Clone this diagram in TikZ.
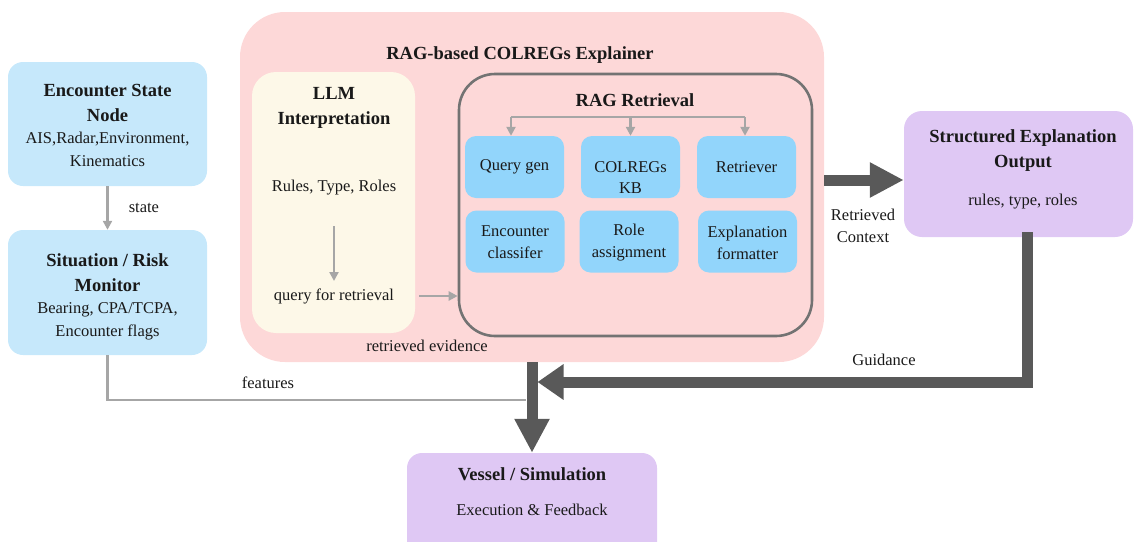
\documentclass[tikz,border=0pt]{standalone}
\usepackage{fontspec}
\setmainfont{Liberation Serif}
\usetikzlibrary{arrows.meta,calc}

\definecolor{encblue}{HTML}{C6E8FB}
\definecolor{subblue}{HTML}{92D5FB}
\definecolor{pinkbg}{HTML}{FDD8D8}
\definecolor{creambg}{HTML}{FDF8E8}
\definecolor{lavender}{HTML}{DFC8F4}
\definecolor{lightarrow}{HTML}{A6A6A6}
\definecolor{darkarrow}{HTML}{595959}
\definecolor{ragborder}{HTML}{737373}

\tikzset{
  regular/.style={font=\fontsize{16.5}{23}\selectfont},
  heading/.style={font=\fontsize{18.5}{25}\selectfont\bfseries},
  txt/.style={align=center, inner sep=0pt, text=black!90},
  panel/.style={inner sep=0pt, draw=none},
  outerbox/.style={panel, fill=encblue, rounded corners=15pt},
  subbox/.style={panel, fill=subblue, rounded corners=11pt, minimum width=99pt, minimum height=62pt},
  outbox/.style={panel, fill=lavender, rounded corners=18pt},
  thinarrow/.style={draw=lightarrow, line width=2.6pt, -{Triangle[width=9pt,length=9pt]}},
  thinline/.style={draw=lightarrow, line width=2.6pt},
  thickarrow/.style={draw=darkarrow, line width=11pt, -{Triangle[width=33pt,length=34pt]}},
  thickline/.style={draw=darkarrow, line width=11pt},
}

\begin{document}
\begin{tikzpicture}[x=1pt, y=-1pt]
\useasboundingbox (0,0) rectangle (1134,541);
\clip (0,0) rectangle (1134,541);

% ---------- left column ----------
\node[outerbox, minimum width=199pt, minimum height=124pt] (enc) at (107.5,124) {};
\node[txt, heading] (encT) at (107.5,102.5) {Encounter State\\Node};
\node[txt, regular] (encB) at (107.5,149) {AIS,Radar,Environment,\\Kinematics};

\node[outerbox, minimum width=199pt, minimum height=125pt] (sit) at (107.5,292.5) {};
\node[txt, heading] (sitT) at (107.5,272.5) {Situation / Risk\\Monitor};
\node[txt, regular] (sitB) at (107.5,321) {Bearing, CPA/TCPA,\\Encounter flags};

% ---------- explainer panel ----------
\node[panel, fill=pinkbg, rounded corners=45pt, minimum width=584pt, minimum height=350pt] (pink) at (532,187) {};
\node[txt, heading] (pinkT) at (520,55) {RAG-based COLREGs Explainer};

\node[panel, fill=creambg, rounded corners=24pt, minimum width=163pt, minimum height=261pt] (llm) at (333.5,202.5) {};
\node[txt, heading] (llmT) at (334,108) {LLM\\Interpretation};
\node[txt, regular] (rules) at (334,188) {Rules, Type, Roles};
\node[txt, regular] (query) at (334,296) {query for retrieval};
\coordinate (rulesArrow) at (334,226);
\coordinate (queryArrow) at (334,281);

\node[panel, draw=ragborder, line width=2.6pt, rounded corners=36pt, minimum width=353pt, minimum height=262pt] (rag) at (635.5,205) {};
\node[txt, heading] (ragT) at (635,100) {RAG Retrieval};

\node[subbox] (qg)  at (514.5,167) {};
\node[subbox] (kb)  at (630.5,167) {};
\node[subbox] (ret) at (746.5,167) {};
\node[subbox] (ec)  at (515,241.5) {};
\node[subbox] (ra)  at (629,241.5) {};
\node[subbox] (ef)  at (747.5,241.5) {};

\node[txt, regular] at (514.5,167) {Query gen};
\node[txt, regular, font=\fontsize{16.5}{21}\selectfont] at (630.5,178) {COLREGs\\KB};
\node[txt, regular] at (746.5,167) {Retriever};
\node[txt, regular, font=\fontsize{16.5}{22}\selectfont] at (515,242) {Encounter\\classifer};
\node[txt, regular, font=\fontsize{16.5}{22}\selectfont] at (629,243) {Role\\assignment};
\node[txt, regular, font=\fontsize{16.5}{22}\selectfont] at (747.5,243) {Explanation\\formatter};

% fan-out bracket over the retrieval modules
\coordinate (fanL) at (511,117);
\coordinate (fanM) at (630.5,117);
\coordinate (fanR) at (745,117);
\draw[thinline] (fanL) -- (fanR);
\draw[thinarrow] (fanL) -- (fanL |- qg.north);
\draw[thinarrow] (fanM) -- (fanM |- kb.north);
\draw[thinarrow] (fanR) -- (fanR |- ret.north);

\node[txt, regular] (evid) at (427,346) {retrieved evidence};

% ---------- right and bottom ----------
\node[outbox, minimum width=229pt, minimum height=126pt] (struct) at (1018.5,174) {};
\node[txt, heading] (structT) at (1023,151) {Structured Explanation\\Output};
\node[txt, regular] (structB) at (1023,202) {rules, type, roles};

\node[outbox, rounded corners=15pt, minimum width=250pt, minimum height=130pt] (vessel) at (532,518) {};
\node[txt, heading] (vesselT) at (532,474) {Vessel / Simulation};
\node[txt, regular] (vesselB) at (532,510) {Execution \& Feedback};

% ---------- connectors ----------
\draw[thinarrow] (enc.south) -- node[txt, regular, right=20pt] {state} (sit.north);
\draw[thinarrow] (rulesArrow) -- (queryArrow);
\draw[thinarrow] ($(query.east)+(25,0)$) -- (rag.west |- query.east);

\coordinate (featEnd) at (526,400);
\draw[thinline] (sit.south) |- (featEnd);
\node[txt, regular] at (268,383) {features};

\draw[thickarrow] (pink.east |- 0,180) -- (struct.west |- 0,180);
\node[txt, regular, font=\fontsize{16.5}{22}\selectfont] at (863,226) {Retrieved\\Context};

\draw[thickarrow] (pink.south) -- (vessel.north);

\coordinate (guideTurn) at (1027,382);
\coordinate (guideEnd) at (537.5,382);
\draw[thickline, line cap=rect] (struct.south -| guideTurn) -- (guideTurn);
\draw[thickarrow, -{Triangle[width=34pt,length=26pt]}] (guideTurn) -- (guideEnd);
\node[txt, regular] at (884,360) {Guidance};
\end{tikzpicture}
\end{document}
